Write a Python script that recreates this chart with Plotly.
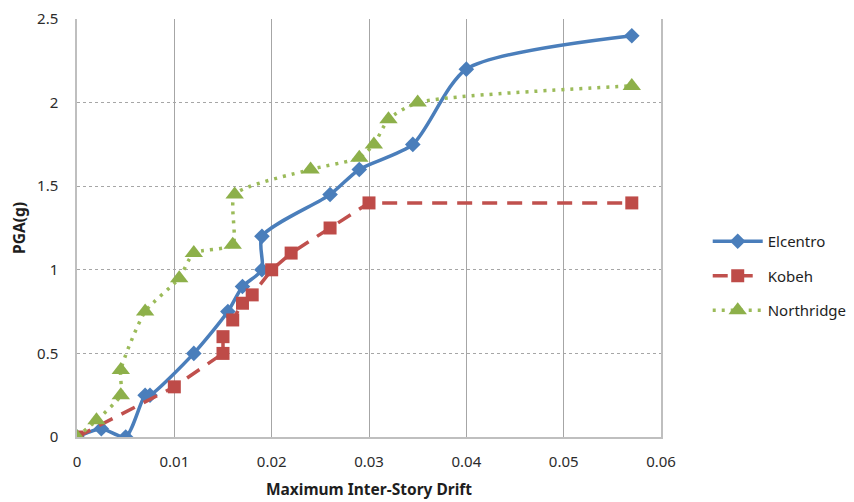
import plotly.graph_objects as go

# Data
el_x = [0, 0.0025, 0.005, 0.007, 0.0075, 0.012, 0.0155, 0.017, 0.019, 0.019, 0.026, 0.029, 0.0345, 0.04, 0.057]
el_y = [0, 0.05, 0, 0.25, 0.25, 0.5, 0.75, 0.9, 1.0, 1.2, 1.45, 1.6, 1.75, 2.2, 2.4]

ko_x = [0, 0.01, 0.015, 0.015, 0.016, 0.017, 0.018, 0.02, 0.022, 0.026, 0.03, 0.057]
ko_y = [0, 0.3, 0.5, 0.6, 0.7, 0.8, 0.85, 1.0, 1.1, 1.25, 1.4, 1.4]

no_x = [0, 0.002, 0.0045, 0.0045, 0.007, 0.0105, 0.012, 0.016, 0.0162, 0.024, 0.029, 0.0305, 0.032, 0.035, 0.057]
no_y = [0, 0.1, 0.25, 0.4, 0.75, 0.95, 1.1, 1.15, 1.45, 1.6, 1.67, 1.75, 1.9, 2.0, 2.1]

x_ticks = [0, 0.01, 0.02, 0.03, 0.04, 0.05, 0.06]
x_labels = ["0", "0.01", "0.02", "0.03", "0.04", "0.05", "0.06"]
y_ticks = [0, 0.5, 1, 1.5, 2, 2.5]
y_labels = ["0", "0.5", "1", "1.5", "2", "2.5"]

FONT = "Noto Sans"

fig = go.Figure()
fig.add_trace(go.Scatter(
    x=el_x, y=el_y, name="Elcentro", mode="lines+markers",
    line=dict(color="#4A7EBB", width=3.5, shape="spline", smoothing=0.7),
    marker=dict(symbol="diamond", size=12, color="#4A7EBB"),
    legendgroup="a"))
fig.add_trace(go.Scatter(
    x=ko_x, y=ko_y, name="Kobeh", mode="lines+markers",
    line=dict(color="#C0504D", width=3.5, dash="15px,10px"),
    marker=dict(symbol="square", size=13, color="#BE4B48"),
    legendgroup="b"))
fig.add_trace(go.Scatter(
    x=no_x, y=no_y, name="Northridge", mode="lines+markers",
    line=dict(color="#9BBB59", width=3.5, dash="3px,6px", shape="spline", smoothing=0.6),
    marker=dict(symbol="triangle-up", size=16, color="#8DB04A"),
    legendgroup="c"))

fig.update_layout(
    width=854, height=502,
    margin=dict(l=69, r=201, t=11, b=73, autoexpand=False),
    plot_bgcolor="white", paper_bgcolor="white",
    font=dict(family=FONT, size=15, color="#2B2B2B"),
    showlegend=True,
    legend=dict(x=1.08, xanchor="left", y=0.385, yanchor="middle",
                tracegroupgap=12, font=dict(size=15, color="#1E1E1E"),
                itemwidth=50),
    xaxis=dict(range=[0, 0.06], tickvals=x_ticks, ticktext=x_labels,
               showgrid=True, gridcolor="#A6A6A6", gridwidth=1,
               showline=True, linecolor="#BFBFBF", linewidth=1.5,
               zeroline=False, ticks="", ticklabelstandoff=10, automargin=False,
               ticklabeloverflow="allow",
               title=dict(text="<b>Maximum Inter-Story Drift</b>", font=dict(size=15.5, color="#1E1E1E"), standoff=14)),
    yaxis=dict(range=[0, 2.5], tickvals=y_ticks, ticktext=y_labels,
               showgrid=True, gridcolor="#A6A6A6", gridwidth=1, griddash="dot",
               showline=True, linecolor="#BFBFBF", linewidth=1.5, mirror=True,
               zeroline=False, ticks="", ticklabelstandoff=14, automargin=False,
               ticklabeloverflow="allow",
               title=dict(text="<b>PGA(g)</b>", font=dict(size=15.5, color="#1E1E1E"), standoff=12)),
)

fig.write_html("out.html")
